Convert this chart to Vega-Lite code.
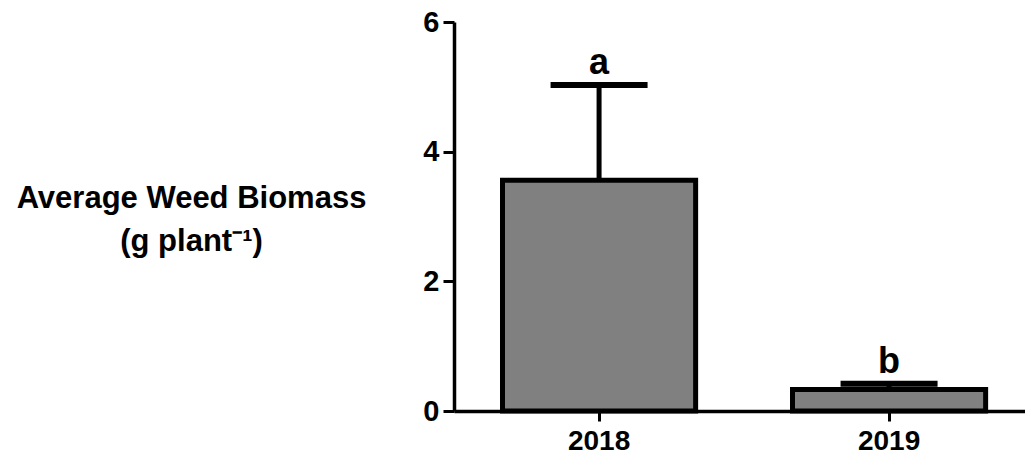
{
  "$schema": "https://vega.github.io/schema/vega-lite/v6.json",
  "autosize": {"type": "none"},
  "padding": {"left": 454, "top": 22, "right": 0, "bottom": 46},
  "width": 571,
  "height": 389,
  "background": "white",
  "config": {"view": {"stroke": null}, "font": "Liberation Sans"},
  "data": {"values": [
    {"year": "2018", "mean": 3.56, "upper": 5.03, "letter": "a"},
    {"year": "2019", "mean": 0.33, "upper": 0.42, "letter": "b"}
  ]},
  "encoding": {
    "x": {
      "field": "year", "type": "nominal",
      "scale": {"paddingInner": 0.334, "paddingOuter": 0.1515, "align": 0.552},
      "axis": {
        "title": null, "labelAngle": 0, "labelFont": "Liberation Sans", "labelFontWeight": "bold",
        "labelFontSize": 28, "labelColor": "black", "labelPadding": 6,
        "domainColor": "black", "domainWidth": 3.5, "tickColor": "black", "tickWidth": 3, "tickSize": 10
      }
    }
  },
  "layer": [
    {
      "mark": {"type": "rule", "color": "black", "strokeWidth": 5},
      "encoding": {
        "y": {"field": "mean", "type": "quantitative"},
        "y2": {"field": "upper"}
      }
    },
    {
      "mark": {"type": "bar", "fill": "#808080", "stroke": "black", "strokeWidth": 5, "strokeJoin": "miter"},
      "encoding": {
        "y": {
          "field": "mean", "type": "quantitative",
          "scale": {"domain": [0, 6], "nice": false, "zero": true},
          "axis": {
            "values": [0, 2, 4, 6], "format": "d", "grid": false,
            "labelFont": "Liberation Sans", "labelFontWeight": "bold", "labelFontSize": 29, "labelColor": "black",
            "labelPadding": 4,
            "domainColor": "black", "domainWidth": 3.5, "tickColor": "black", "tickWidth": 3, "tickSize": 11,
            "title": ["Average Weed Biomass", "(g plant⁻¹)"],
            "titleAngle": 0, "titleAlign": "center", "titleBaseline": "alphabetic",
            "titleX": -263, "titleY": 185, "titleLineHeight": 43,
            "titleFont": "Liberation Sans", "titleFontWeight": "bold", "titleFontSize": 31, "titleColor": "black"
          }
        }
      }
    },
    {
      "mark": {"type": "tick", "color": "black", "opacity": 1, "size": 97, "thickness": 6, "orient": "horizontal"},
      "encoding": {
        "y": {"field": "upper", "type": "quantitative"}
      }
    },
    {
      "mark": {"type": "text", "font": "Liberation Sans", "fontWeight": "bold", "fontSize": 36, "color": "black", "baseline": "alphabetic", "dy": -11},
      "encoding": {
        "y": {"field": "upper", "type": "quantitative"},
        "text": {"field": "letter"}
      }
    }
  ]
}
